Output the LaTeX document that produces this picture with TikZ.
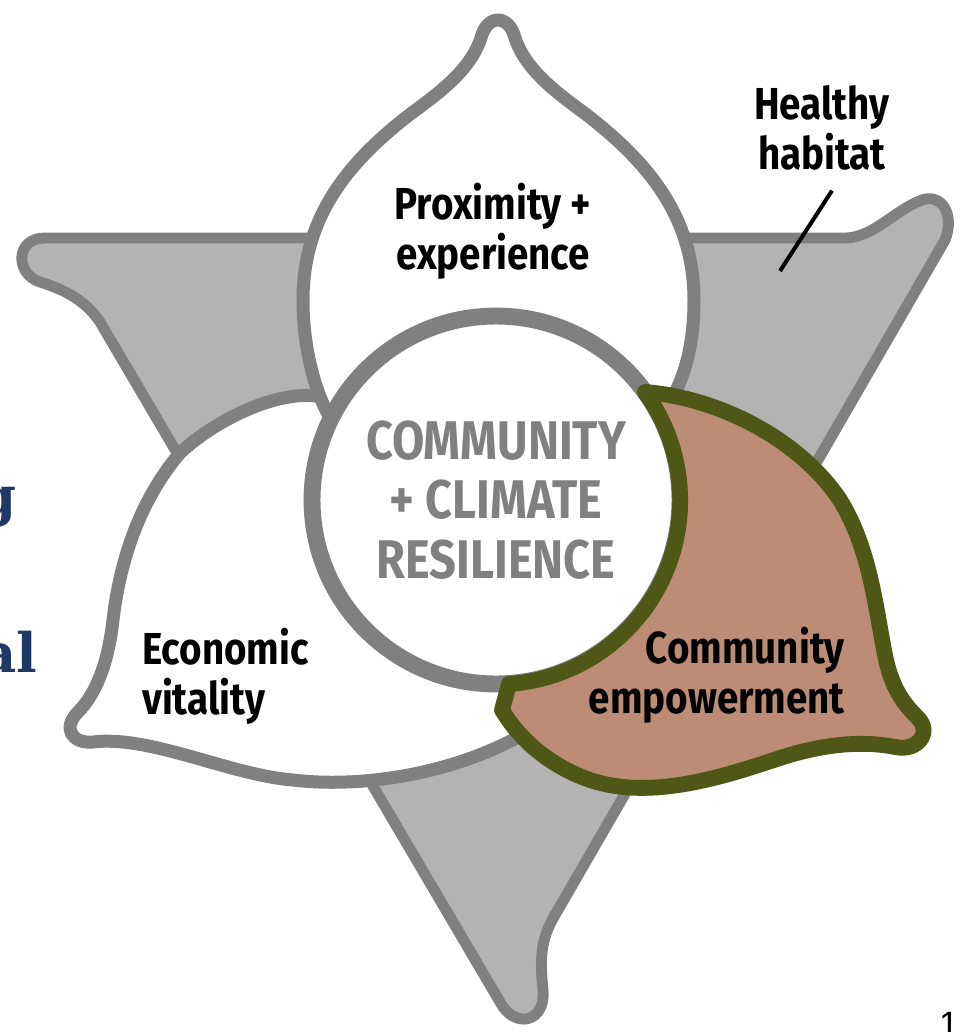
\documentclass[tikz,border=0pt]{standalone}
\usepackage{fontspec}
\setmainfont{Fira Sans}[FakeStretch=0.86]
\newfontfamily\slabfont{DejaVu Serif}
\newfontfamily\pagefont{Liberation Sans}
\definecolor{edgegray}{RGB}{128,128,128}
\definecolor{fillgray}{RGB}{179,179,179}
\definecolor{clay}{RGB}{188,140,116}
\definecolor{mossgreen}{RGB}{78,87,22}
\definecolor{titlenavy}{RGB}{31,56,100}

\begin{document}
\begin{tikzpicture}[x=0.02cm, y=-0.02cm,
	habitat/.style={fill=fillgray, draw=edgegray, line width=6.2pt, line join=round},
	petal/.style={fill=white, draw=edgegray, line width=7.4pt, line join=round},
	empower/.style={fill=clay, draw=mossgreen, line width=9pt, line join=round},
	core/.style={circle, fill=white, draw=edgegray, line width=9.6pt, minimum size=7.36cm,
		inner sep=0pt, align=center, text=edgegray, font=\bfseries\fontsize{31}{34}\selectfont},
	lbl/.style={inner sep=0pt, font=\bfseries\fontsize{25.5}{28.3}\selectfont},
	leader/.style={line width=2.3pt},
	cut/.style={inner sep=0pt, text=titlenavy, font=\slabfont\bfseries\fontsize{31}{36}\selectfont}
	]
	
	\useasboundingbox (0,0) rectangle (963,1032);
	
	% healthy habitat, the triangle behind
	\draw[habitat] (45,238) -- (847,238) .. controls (875,236) and (895,210) .. (922,200)
		.. controls (942,193) and (955,215) .. (945,240) -- (555,915)
		.. controls (540,940) and (540,960) .. (543,990)
		.. controls (546,1022) and (515,1030) .. (500,1002) -- (100,322)
		.. controls (85,300) and (65,290) .. (40,282)
		.. controls (15,274) and (15,238) .. (45,238) -- cycle;
	
	% economic vitality
	\draw[petal] (380,430) -- (322,397) .. controls (280,388) and (215,420) .. (180,453)
		.. controls (140,500) and (120,560) .. (113,620)
		.. controls (108,665) and (95,695) .. (78,712)
		.. controls (62,728) and (72,744) .. (93,742)
		.. controls (150,735) and (230,775) .. (293,780)
		.. controls (360,788) and (450,775) .. (522,735) -- (560,650) -- cycle;
	
	% proximity + experience
	\draw[petal] (340,430) .. controls (328,422) and (303,370) .. (303,300)
		.. controls (303,215) and (350,160) .. (413,112)
		.. controls (452,84) and (472,64) .. (481,38)
		.. controls (487,14) and (509,14) .. (515,38)
		.. controls (524,64) and (544,84) .. (583,112)
		.. controls (646,160) and (694,215) .. (694,300)
		.. controls (694,345) and (685,380) .. (665,410) -- (496,500) -- cycle;
	
	\node[core] (core) at (496,500) {COMMUNITY\\+ CLIMATE\\RESILIENCE};
	
	% community empowerment
	\draw[empower] (645,392) .. controls (720,398) and (800,440) .. (840,500)
		.. controls (870,548) and (876,610) .. (885,655)
		.. controls (892,690) and (905,705) .. (918,718)
		.. controls (932,732) and (918,752) .. (895,747)
		.. controls (860,740) and (820,745) .. (780,758)
		.. controls (720,778) and (650,800) .. (590,780)
		.. controls (550,766) and (520,740) .. (502,710)
		-- (509,684) arc[start angle=86, end angle=-36, radius=184] -- cycle;
	
	\node[lbl, align=center] (prox) at (493,231) {Proximity +\\experience};
	\node[lbl, align=left, anchor=west] (econ) at (142,676) {Economic\\vitality};
	\node[lbl, align=right, anchor=east] (empw) at (845,675) {Community\\empowerment};
	\node[lbl, align=center] (hab) at (822,128) {Healthy\\habitat};
	
	\coordinate (habtick) at (780,271);
	\draw[leader] ([shift={(10,20)}]hab.south) -- (habtick);
	
	\node[cut, anchor=base east] (wordg) at (17,515) {g};
	\node[cut, anchor=base east] (wordal) at (38,672) {al};
	\node[inner sep=0pt, anchor=north, font=\pagefont\fontsize{20}{24}\selectfont] (pagenum) at (949,1012) {1};
\end{tikzpicture}
\end{document}
